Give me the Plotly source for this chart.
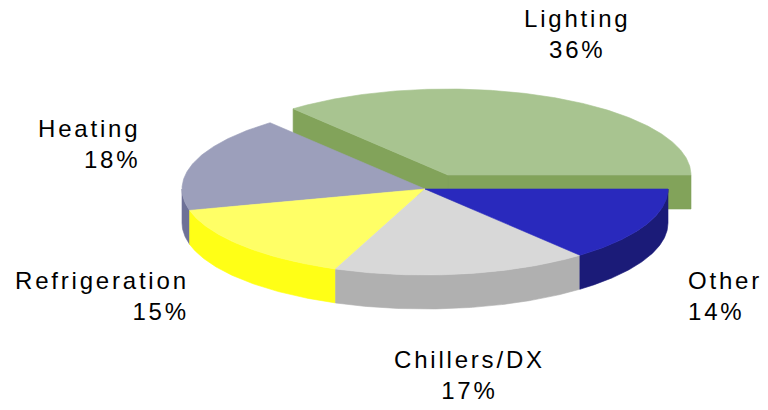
import numpy as np
import plotly.graph_objects as go

# ---- data ----
categories = ["Lighting", "Heating", "Refrigeration", "Chillers/DX", "Other"]
shares = [36, 18, 15, 17, 14]

# ---- style ----
top_colors = ["#A8C490", "#9C9FBB", "#FFFF66", "#D8D8D8", "#2929BD"]
side_colors = ["#82A35A", "#6E7197", "#FFFF16", "#B0B0B0", "#1B1B78"]
exploded = [True, False, False, False, False]

CX, CY = 425.0, 189.0      # pie centre (pixel space)
RX, RY = 243.0, 86.0       # ellipse radii
DEPTH = 34.0               # thickness of the 3D pie
EXPLODE = (23.0, -14.0)    # offset of exploded slice

label_pos = {
    "Lighting": (577, 34, "center"),
    "Heating": (142, 144, "right"),
    "Refrigeration": (191, 296, "right"),
    "Chillers/DX": (469, 375, "center"),
    "Other": (686, 296, "left"),
}

total = float(sum(shares))
bounds = np.concatenate([[0.0], np.cumsum(shares)]) / total * 2 * np.pi


def arc(cx, cy, a, b, dy=0.0, n=None):
    if n is None:
        n = max(3, int(abs(b - a) / np.pi * 180 * 2))
    t = np.linspace(a, b, n)
    return list(cx + RX * np.cos(t)), list(cy - RY * np.sin(t) + dy)


def poly_trace(xs, ys, color):
    return go.Scatter(
        x=xs + [xs[0]], y=ys + [ys[0]], mode="lines", fill="toself",
        fillcolor=color, line=dict(color=color, width=0.6),
        hoverinfo="skip", showlegend=False,
    )


def slice_traces(i, parts):
    a, b = bounds[i], bounds[i + 1]
    cx, cy = CX, CY
    if exploded[i]:
        cx += EXPLODE[0]
        cy += EXPLODE[1]
    out = []
    if "side" in parts:
        # radial cut faces (only for exploded slices)
        if exploded[i]:
            for ang, vis in ((a, np.cos(a) > 0), (b, np.cos(b) < 0)):
                if vis:
                    rx_, ry_ = cx + RX * np.cos(ang), cy - RY * np.sin(ang)
                    out.append(poly_trace([cx, rx_, rx_, cx],
                                          [cy, ry_, ry_ + DEPTH, cy + DEPTH],
                                          side_colors[i]))
        # outer curved wall, front half only
        lo, hi = max(a, np.pi), min(b, 2 * np.pi)
        if hi > lo:
            xt, yt = arc(cx, cy, lo, hi)
            xb, yb = arc(cx, cy, hi, lo, dy=DEPTH)
            out.append(poly_trace(xt + xb, yt + yb, side_colors[i]))
    if "top" in parts:
        xt, yt = arc(cx, cy, a, b)
        out.append(poly_trace([cx] + xt, [cy] + yt, top_colors[i]))
    return out


fig = go.Figure()
# exploded slices first (they sit behind)
for i in range(len(shares)):
    if exploded[i]:
        for tr in slice_traces(i, ("side", "top")):
            fig.add_trace(tr)
for i in range(len(shares)):
    if not exploded[i]:
        for tr in slice_traces(i, ("side",)):
            fig.add_trace(tr)
for i in range(len(shares)):
    if not exploded[i]:
        for tr in slice_traces(i, ("top",)):
            fig.add_trace(tr)

for name, val in zip(categories, shares):
    x, y, al = label_pos[name]
    fig.add_annotation(
        x=x, y=y, xref="x", yref="y", xanchor=al, yanchor="middle",
        align=al, showarrow=False,
        text=(f'<span style="letter-spacing:2.8px">{name}</span><br>'
              f'<span style="letter-spacing:2.8px">{val}%</span>'),
        font=dict(family="Liberation Sans, Arial, sans-serif", size=24, color="#000000"),
    )

fig.update_layout(
    width=768, height=410,
    margin=dict(l=0, r=0, t=0, b=0),
    paper_bgcolor="white", plot_bgcolor="white",
    xaxis=dict(range=[0, 768], visible=False, fixedrange=True),
    yaxis=dict(range=[410, 0], visible=False, fixedrange=True),
    showlegend=False,
)
fig.write_html(
    "out.html",
    config={"displayModeBar": False},
    post_script="document.body.style.margin='0';document.body.style.overflow='hidden';",
)
